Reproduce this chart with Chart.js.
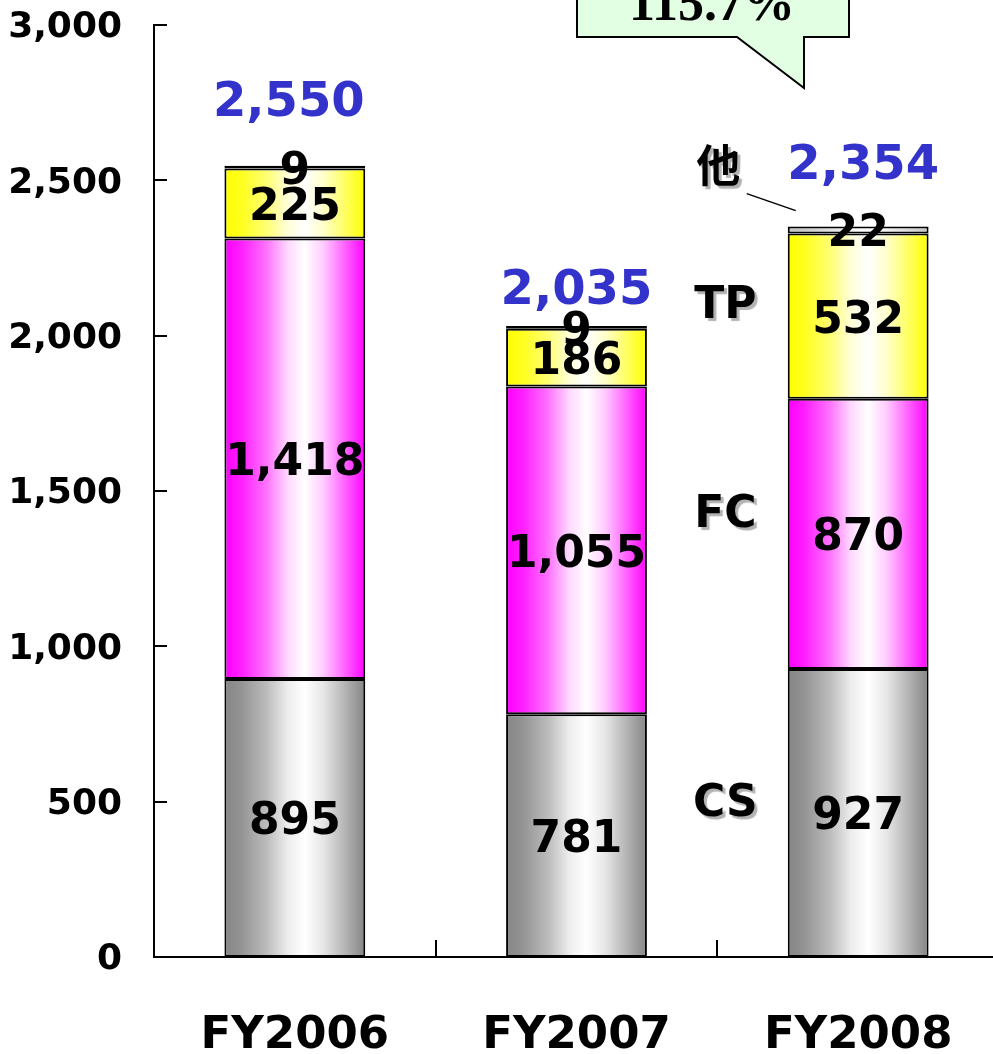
<!DOCTYPE html>
<html><head><meta charset="utf-8">
<script src="https://cdn.jsdelivr.net/npm/chart.js@4"></script>
<style>html,body{margin:0;padding:0;overflow:hidden;background:#fff}#wrap{width:993px;height:1054px;overflow:hidden}canvas{display:block}</style>
</head><body><div id="wrap"><canvas id="c" width="999" height="1054"></canvas></div>
<script>
const categories = ['FY2006', 'FY2007', 'FY2008'];
const csValues = [895, 781, 927];
const fcValues = [1418, 1055, 870];
const tpValues = [225, 186, 532];
const otherValues = [9, 9, 22];
const totalLabels = ['2,550', '2,035', '2,354'];
const yTickValues = [0, 500, 1000, 1500, 2000, 2500, 3000];
const seriesNames = ['CS', 'FC', 'TP', '他'];
const seriesLabelLevels = [505, 1433, 2105, 2556];
const calloutText = '115.7%';

// layout-only constants (pixel offsets for annotation text)
const totalOffsets = [[-6, -62], [0, -35], [5, -60]];

const FONT = '"DejaVu Sans", Verdana, sans-serif';

function hexToRgb(h) {
  const n = parseInt(h.slice(1), 16);
  return [(n >> 16) & 255, (n >> 8) & 255, n & 255];
}
function mix(edge, t) { // t = fraction of white
  const c = hexToRgb(edge).map(v => Math.round(v + (255 - v) * t));
  return 'rgb(' + c.join(',') + ')';
}

function makeGrad(chart, idx, edge) {
  const xs = chart.scales && chart.scales.x;
  if (!xs || !isFinite(xs.width) || xs.width <= 0) return edge;
  const cx = xs.getPixelForValue(idx);
  const w = (xs.width / categories.length) * 0.5;
  const g = chart.ctx.createLinearGradient(cx - w / 2, 0, cx + w / 2, 0);
  const stops = [[0, 0], [0.12, 0.12], [0.3, 0.45], [0.45, 0.85], [0.57, 1], [0.7, 0.8], [0.85, 0.4], [1, 0]];
  stops.forEach(s => g.addColorStop(s[0], mix(edge, s[1])));
  return g;
}

function ds(label, data, edge) {
  return {
    label, data,
    backgroundColor: (ctx) => makeGrad(ctx.chart, ctx.dataIndex, edge),
    borderColor: '#000',
    borderWidth: 2,
    borderSkipped: false,
    barPercentage: 1,
    categoryPercentage: 0.5,
    stack: 's'
  };
}

const segLabels = {
  id: 'segLabels',
  afterDatasetsDraw(chart) {
    const ctx = chart.ctx;
    ctx.save();
    ctx.font = 'bold 44px ' + FONT;
    ctx.fillStyle = '#000';
    ctx.textAlign = 'center';
    ctx.textBaseline = 'middle';
    chart.data.datasets.forEach((d, di) => {
      const meta = chart.getDatasetMeta(di);
      meta.data.forEach((el, i) => {
        const p = el.getProps(['x', 'y', 'base'], true);
        ctx.fillText(d.data[i].toLocaleString('en-US'), p.x, (p.y + p.base) / 2 + 5);
      });
    });
    // totals
    ctx.font = 'bold 48px ' + FONT;
    ctx.fillStyle = '#3333CC';
    const ys = chart.scales.y, xs = chart.scales.x;
    categories.forEach((c, i) => {
      const tot = csValues[i] + fcValues[i] + tpValues[i] + otherValues[i];
      ctx.fillText(totalLabels[i], xs.getPixelForValue(i) + totalOffsets[i][0], ys.getPixelForValue(tot) + totalOffsets[i][1]);
    });
    ctx.restore();
  }
};

const decor = {
  id: 'decor',
  afterDraw(chart) {
    const ctx = chart.ctx;
    const ys = chart.scales.y, xs = chart.scales.x;
    const a = chart.chartArea;
    ctx.save();
    // inward y ticks
    ctx.strokeStyle = '#000';
    ctx.lineWidth = 2;
    yTickValues.forEach(v => {
      const y = Math.round(ys.getPixelForValue(v));
      ctx.beginPath(); ctx.moveTo(a.left, y); ctx.lineTo(a.left + 13, y); ctx.stroke();
    });
    // inward x ticks at category boundaries
    for (let i = 1; i < categories.length; i++) {
      const x = Math.round((xs.getPixelForValue(i - 1) + xs.getPixelForValue(i)) / 2);
      ctx.beginPath(); ctx.moveTo(x, a.bottom); ctx.lineTo(x, a.bottom - 17); ctx.stroke();
    }
    // side series labels with shadow
    const sx = (xs.getPixelForValue(1) + xs.getPixelForValue(2)) / 2;
    ctx.textAlign = 'center';
    ctx.textBaseline = 'middle';
    ctx.fillStyle = '#000';
    ctx.shadowColor = 'rgba(0,0,0,0.3)';
    ctx.shadowOffsetX = 3; ctx.shadowOffsetY = 3; ctx.shadowBlur = 1;
    seriesNames.forEach((n, i) => {
      if (n === '他') {
        ctx.font = 'bold 44px "Noto Sans CJK JP", sans-serif';
        ctx.fillText(n, sx + 1, ys.getPixelForValue(seriesLabelLevels[i]) + 2);
      } else {
        ctx.font = 'bold 44px ' + FONT;
        ctx.fillText(n, sx + 8, ys.getPixelForValue(seriesLabelLevels[i]) + 4);
      }
    });
    ctx.shadowColor = 'transparent';
    // leader line from 他 to bar top
    const bar2 = chart.getDatasetMeta(3).data[2];
    const bl = bar2.x - bar2.width / 2, bt = bar2.y;
    ctx.lineWidth = 1.5;
    ctx.beginPath(); ctx.moveTo(bl - 41, bt - 33); ctx.lineTo(bl + 8, bt - 16); ctx.stroke();
    // callout
    ctx.fillStyle = '#E3FFE3';
    ctx.strokeStyle = '#000';
    ctx.lineWidth = 2;
    ctx.beginPath();
    ctx.moveTo(577, -10); ctx.lineTo(849, -10); ctx.lineTo(849, 37); ctx.lineTo(804, 37);
    ctx.lineTo(804, 88); ctx.lineTo(737, 37); ctx.lineTo(577, 37); ctx.closePath();
    ctx.fill(); ctx.stroke();
    ctx.fillStyle = '#000';
    ctx.font = 'bold 52px "Liberation Serif", "Times New Roman", serif';
    ctx.textBaseline = 'alphabetic';
    ctx.fillText(calloutText, 712, 20);
    ctx.restore();
  }
};

new Chart(document.getElementById('c'), {
  type: 'bar',
  data: {
    labels: categories,
    datasets: [
      ds('CS', csValues, '#858585'),
      ds('FC', fcValues, '#ff00ff'),
      ds('TP', tpValues, '#ffff00'),
      ds('他', otherValues, '#c4c4c4')
    ]
  },
  options: {
    responsive: false,
    animation: false,
    layout: { padding: { top: 25, left: 0, right: 0, bottom: 0 } },
    plugins: { legend: { display: false }, tooltip: { enabled: false } },
    scales: {
      x: {
        stacked: true,
        grid: { display: false, drawTicks: false },
        border: { display: true, color: '#000', width: 2 },
        ticks: { color: '#000', font: { family: FONT, size: 45, weight: 'bold' }, padding: 52 },
        afterFit(s) { s.height = 97; s.paddingLeft = 0; s.paddingRight = 0; }
      },
      y: {
        stacked: true,
        min: 0, max: 3000,
        grid: { display: false, drawTicks: false },
        border: { display: true, color: '#000', width: 2 },
        ticks: {
          stepSize: 500,
          color: '#000',
          font: { family: FONT, size: 36, weight: 'bold' },
          padding: 32,
          labelOffset: 3,
          callback: (v) => Number(v).toLocaleString('en-US')
        },
        afterFit(s) { s.width = 154; s.paddingTop = 0; s.paddingBottom = 0; }
      }
    }
  },
  plugins: [segLabels, decor]
});
</script>
</body></html>
